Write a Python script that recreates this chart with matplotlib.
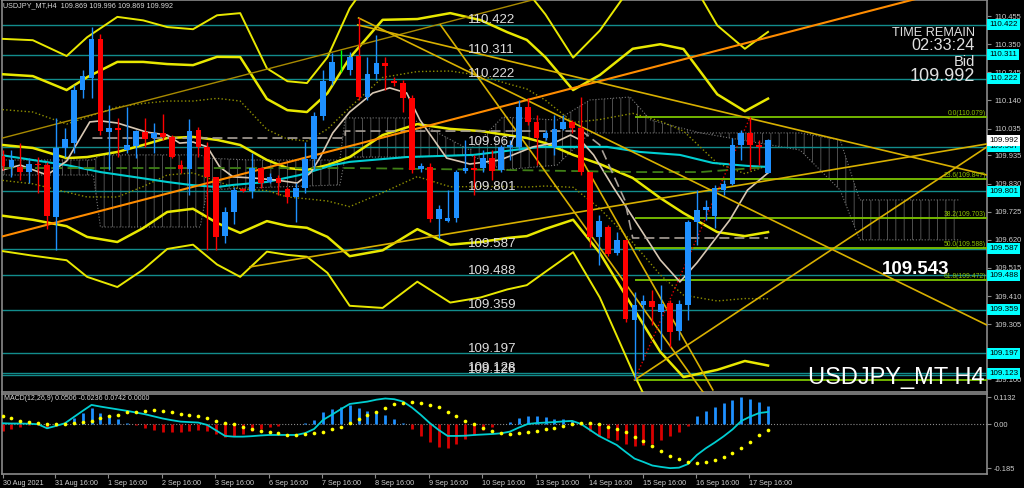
# USDJPY H4 chart with Bollinger bands, ichimoku cloud, fibo and MACD panel

import matplotlib
matplotlib.use("Agg")
import matplotlib.pyplot as plt
import numpy as np
from matplotlib.transforms import blended_transform_factory

plt.rcParams['font.family'] = ['Liberation Sans', 'DejaVu Sans']
plt.rcParams['hatch.linewidth'] = 0.6

# H4 candles, 30 Aug 16:00 .. 17 Sep 20:00
opens = [109.933, 109.892, 109.892, 109.873, 109.903, 109.899, 109.705, 109.963, 109.981, 110.179,
         110.224, 110.369, 110.022, 110.037, 109.955, 109.970, 110.022, 110.000, 110.019, 110.004,
         109.899, 109.884, 110.030, 109.967, 109.855, 109.634, 109.724, 109.810, 109.802, 109.888,
         109.836, 109.851, 109.810, 109.780, 109.814, 109.922, 110.082, 110.213, 110.291, 110.254,
         110.306, 110.153, 110.239, 110.280, 110.213, 110.205, 110.149, 109.884, 109.892, 109.698,
         109.690, 109.702, 109.877, 109.888, 109.888, 109.925, 109.881, 109.967, 109.967, 110.116,
         110.060, 110.000, 109.967, 110.034, 110.060, 110.037, 109.873, 109.631, 109.668, 109.571,
         109.620, 109.321, 109.377, 109.392, 109.351, 109.385, 109.280, 109.377, 109.687, 109.731,
         109.709, 109.806, 109.828, 109.974, 110.019, 109.974, 109.869]
highs = [109.955, 109.955, 109.981, 109.925, 109.929, 109.911, 110.075, 110.037, 110.198, 110.254,
         110.414, 110.388, 110.123, 110.075, 110.116, 110.030, 110.075, 110.056, 110.090, 110.011,
         109.918, 110.071, 110.041, 109.985, 109.855, 109.743, 109.817, 109.814, 109.944, 109.892,
         109.870, 109.862, 109.817, 109.832, 109.985, 110.097, 110.254, 110.317, 110.328, 110.321,
         110.448, 110.302, 110.384, 110.302, 110.228, 110.217, 110.161, 109.907, 109.907, 109.750,
         109.806, 109.881, 109.993, 109.937, 109.955, 109.955, 109.974, 109.993, 110.142, 110.149,
         110.086, 110.030, 110.086, 110.086, 110.067, 110.153, 109.873, 109.713, 109.676, 109.649,
         109.620, 109.426, 109.414, 109.433, 109.452, 109.396, 109.396, 109.694, 109.806, 109.769,
         109.825, 109.843, 110.000, 110.030, 110.079, 109.993, 109.996]
lows = [109.881, 109.855, 109.843, 109.832, 109.795, 109.661, 109.582, 109.929, 109.944, 110.149,
        110.149, 110.011, 109.881, 109.929, 109.944, 109.925, 109.967, 109.944, 109.993, 109.925,
        109.870, 109.787, 109.929, 109.582, 109.582, 109.608, 109.679, 109.799, 109.776, 109.814,
        109.832, 109.787, 109.758, 109.687, 109.795, 109.881, 110.067, 110.198, 110.246, 110.235,
        110.142, 110.142, 110.217, 110.179, 110.194, 110.097, 109.870, 109.873, 109.687, 109.627,
        109.687, 109.687, 109.870, 109.787, 109.873, 109.843, 109.873, 109.918, 109.955, 110.049,
        109.899, 109.993, 109.937, 110.030, 110.019, 109.862, 109.593, 109.526, 109.560, 109.564,
        109.314, 109.097, 109.172, 109.302, 109.209, 109.220, 109.246, 109.321, 109.601, 109.694,
        109.664, 109.787, 109.825, 109.918, 109.881, 109.899, 109.869]
closes = [109.896, 109.918, 109.873, 109.903, 109.899, 109.709, 109.963, 109.996, 110.179, 110.231,
          110.369, 110.026, 110.037, 110.030, 109.974, 110.026, 109.996, 110.019, 110.004, 109.929,
          109.884, 110.026, 109.967, 109.855, 109.631, 109.724, 109.806, 109.802, 109.888, 109.832,
          109.855, 109.832, 109.780, 109.814, 109.922, 110.082, 110.213, 110.284, 110.291, 110.302,
          110.153, 110.239, 110.280, 110.269, 110.205, 110.149, 109.881, 109.896, 109.698, 109.735,
          109.702, 109.873, 109.888, 109.881, 109.925, 109.877, 109.967, 109.974, 110.116, 110.060,
          110.000, 110.019, 110.034, 110.060, 110.037, 109.873, 109.631, 109.690, 109.567, 109.620,
          109.325, 109.377, 109.392, 109.370, 109.381, 109.276, 109.381, 109.687, 109.731, 109.743,
          109.814, 109.828, 109.974, 110.019, 109.974, 109.967, 109.992]

# MACD(12,26,9): main line and signal dots
macd_main = [0.003, 0.002, 0.002, 0.001, -0.001, -0.018, -0.008, 0.003, 0.029, 0.055,
             0.080, 0.073, 0.067, 0.061, 0.055, 0.048, 0.041, 0.032, 0.023, 0.016,
             0.010, 0.008, 0.006, -0.004, -0.027, -0.050, -0.053, -0.053, -0.051, -0.048,
             -0.046, -0.046, -0.046, -0.046, -0.038, -0.021, 0.017, 0.039, 0.062, 0.084,
             0.089, 0.094, 0.102, 0.107, 0.104, 0.094, 0.069, 0.038, 0.004, -0.025,
             -0.050, -0.050, -0.049, -0.046, -0.044, -0.042, -0.039, -0.032, -0.015, 0.000,
             0.004, 0.006, 0.008, 0.011, 0.013, 0.000, -0.025, -0.050, -0.069, -0.088,
             -0.117, -0.145, -0.159, -0.174, -0.180, -0.185, -0.183, -0.168, -0.130, -0.102,
             -0.078, -0.052, -0.023, 0.013, 0.031, 0.046, 0.0506]
macd_signal = [0.0335, 0.024, 0.014, 0.007, 0.003, -0.001, -0.001, -0.001, 0.003, 0.007,
               0.011, 0.025, 0.034, 0.039, 0.049, 0.052, 0.056, 0.059, 0.056, 0.049,
               0.043, 0.036, 0.032, 0.024, 0.014, 0.005, -0.001, -0.013, -0.022, -0.029,
               -0.035, -0.039, -0.045, -0.046, -0.043, -0.039, -0.034, -0.022, -0.011, 0.005,
               0.020, 0.038, 0.052, 0.068, 0.082, 0.089, 0.092, 0.089, 0.080, 0.070,
               0.050, 0.034, 0.014, 0.000, -0.018, -0.029, -0.039, -0.042, -0.039, -0.034,
               -0.029, -0.022, -0.015, -0.008, -0.001, 0.003, 0.003, -0.001, -0.011, -0.021,
               -0.035, -0.053, -0.071, -0.092, -0.113, -0.133, -0.148, -0.158, -0.162, -0.158,
               -0.151, -0.140, -0.123, -0.101, -0.075, -0.047, -0.0236]

# Bollinger(20) middle line and one standard deviation, read at these bars
bb_bars = [0, 3.4, 7.2, 9.5, 12.9, 15.8, 18.5, 21.4, 24.1, 26.7, 29.7, 32.0, 34.2, 36.5, 39.0,
           42.7, 46.6, 50.3, 53.7, 56.7, 58.9, 61.0, 64.1, 67.1, 70.8, 73.9, 76.5, 80.3, 83.4, 86.0]
bb_mid = [109.974, 109.963, 109.925, 109.929, 109.948, 109.974, 110.000, 110.004, 109.993, 109.974,
          109.918, 109.888, 109.881, 109.899, 109.929, 110.011, 110.052, 110.034, 110.026, 110.011,
          110.000, 109.981, 109.937, 109.903, 109.851, 109.776, 109.720, 109.649, 109.634, 109.649]
bb_sd = [0.132, 0.134, 0.127, 0.149, 0.168, 0.155, 0.138, 0.134, 0.155, 0.164,
         0.114, 0.108, 0.108, 0.134, 0.185, 0.215, 0.196, 0.216, 0.207, 0.192,
         0.183, 0.160, 0.121, 0.166, 0.241, 0.287, 0.306, 0.257, 0.233, 0.249]

# moving averages
ma_cyan_bars = [-0.3, 3.4, 7.2, 11.0, 14.7, 18.5, 21.1, 24.1, 25.9, 29.7, 33.4, 37.1, 39.0, 45.4,
                52.9, 60.4, 67.9, 71.6, 76.1, 79.8, 83.7, 86.0]
ma_cyan = [109.937, 109.918, 109.899, 109.873, 109.855, 109.836, 109.825, 109.817, 109.825, 109.836,
           109.862, 109.899, 109.911, 109.929, 109.937, 109.967, 109.967, 109.948, 109.937, 109.907,
           109.896, 109.892]
ma_fast_bars = [0, 2.0, 5.0, 7.2, 9.8, 11.0, 12.9, 16.2, 18.5, 19.9, 21.4, 23.0, 24.4, 25.9, 28.1,
                30.8, 33.1, 34.6, 35.7, 37.1, 39.0, 41.6, 43.5, 45.4, 46.9, 49.9, 52.5, 55.9, 59.6,
                61.9, 63.8, 64.9, 66.4, 68.6, 71.6, 73.9, 76.1, 78.0, 81.7, 83.7, 86.0]
ma_fast = [109.881, 109.899, 109.862, 109.914, 110.060, 110.064, 110.056, 110.022, 110.011, 109.981,
           109.985, 109.967, 109.892, 109.855, 109.851, 109.843, 109.832, 109.870, 109.929, 110.019,
           110.097, 110.168, 110.187, 110.168, 110.067, 109.925, 109.903, 109.918, 109.967, 109.981,
           110.011, 109.993, 109.937, 109.817, 109.664, 109.545, 109.463, 109.534, 109.694, 109.806,
           109.870]
ma_slow_bars = [0, 39.0, 55.9, 71.6, 78.4, 86.0]
ma_slow = [109.888, 109.888, 109.881, 109.873, 109.873, 109.892]
kijun_bars = [10.1, 38.5, 38.5, 65.1, 67.1, 69.9, 70.8, 86.0]
kijun = [110.000, 110.000, 110.026, 110.026, 109.974, 109.769, 109.627, 109.627]

# ichimoku cloud (span A / span B)
cloud_bars = [-0.3, 10.2, 11.0, 22.2, 23.0, 27.8, 37.9, 38.5, 45.8, 52.5, 56.2, 62.3, 66.0, 70.5,
              72.8, 78.4, 89.6, 94.1, 96.3, 98.6, 107.6]
span_a = [109.918, 109.918, 109.937, 109.937, 109.925, 109.918, 109.918, 110.075, 110.075, 109.955,
          110.078, 110.067, 110.142, 110.153, 110.067, 110.019, 110.019, 109.993, 109.769, 109.769,
          109.769]
span_b = [109.862, 109.862, 109.668, 109.668, 109.806, 109.814, 109.825, 109.929, 109.929, 109.937,
          109.881, 109.899, 110.019, 110.019, 110.019, 110.019, 109.955, 109.806, 109.620, 109.620,
          109.620]

# support / resistance levels
sr_levels = [110.422, 110.311, 110.222, 109.967, 109.801, 109.587, 109.488, 109.359, 109.197,
             109.123, 109.116]
sr_labels = ['110.422', '110.311', '110.222', '109.967', '109.801', '109.587', '109.488', '109.359',
             '109.197', '109.128', '109.126']

# fibonacci retracement (low bar 71 -> high bar 84)
fib_levels = [110.079, 109.847, 109.703, 109.588, 109.472, 109.097]
fib_names = ['0.0(110.079)', '23.6(109.847)', '38.2(109.703)', '50.0(109.588)', '61.8(109.472)', '']

# trendlines: (bar0, price0, bar1, price1)
trend_orange = (0, 109.633, 110.6, 110.588)
trend_olive = (0, 110.000, 110.6, 110.957)
trend_gold = [(40.0, 110.448, 110.6, 109.302),
              (39.9, 110.422, 110.6, 109.862),
              (27.8, 109.519, 110.6, 109.978),
              (49.2, 110.422, 78.7, 109.052),
              (64.9, 109.929, 79.8, 109.060),
              (71.0, 109.097, 110.6, 109.967)]

axis_ticks = [110.455, 110.350, 110.245, 110.140, 110.035, 109.935, 109.830, 109.725, 109.620,
              109.515, 109.410, 109.305, 109.100]
date_labels = ['30 Aug 2021', '31 Aug 16:00', '1 Sep 16:00', '2 Sep 16:00', '3 Sep 16:00',
               '6 Sep 16:00', '7 Sep 16:00', '8 Sep 16:00', '9 Sep 16:00', '10 Sep 16:00',
               '13 Sep 16:00', '14 Sep 16:00', '15 Sep 16:00', '16 Sep 16:00', '17 Sep 16:00']
date_pos = [0.1, 5.9, 11.9, 17.9, 23.9, 29.9, 35.9, 41.9, 47.9, 53.9, 59.9, 65.9, 71.9, 77.9, 83.9]

# ---------------------------------------------------------------------------
fig = plt.figure(figsize=(10.24, 4.88), dpi=100, facecolor='black')
ax = fig.add_axes([2 / 1024, 96 / 488, 985 / 1024, 392 / 488], facecolor='black')
ax2 = fig.add_axes([2 / 1024, 14 / 488, 985 / 1024, 80 / 488], facecolor='black')

ax.set_xlim(-0.06, 110.6)
ax.set_ylim(109.0523, 110.515)
ax2.set_xlim(-0.06, 110.6)
ax2.set_ylim(-0.2096, 0.1258)

for a in (ax, ax2):
    for s in a.spines.values():
        s.set_color('#8a8a8a')
        s.set_linewidth(1.2)

# cloud
ax.fill_between(cloud_bars, span_a, span_b, facecolor='none', edgecolor='#5c5c5c',
                hatch='||', linewidth=0, zorder=1)
ax.plot(cloud_bars, span_a, color='#777777', lw=0.8, ls=':', zorder=1)
ax.plot(cloud_bars, span_b, color='#777777', lw=0.8, ls=':', zorder=1)

# levels
for lv in sr_levels:
    ax.axhline(lv, color='#128c8c', lw=1, zorder=2)
for lv, lab in zip(sr_levels, sr_labels):
    ax.annotate(lab, (52.3, lv), xytext=(0, 1.2), textcoords='offset points',
                color='#dedede', fontsize=9.6, va='baseline', ha='left', zorder=9)

# fibo
fib_start = 71
ax.hlines(fib_levels, fib_start, 110.6, color='#7cc400', lw=1.3, zorder=3)
ftrans = blended_transform_factory(fig.transFigure, ax.transData)
for lv, nm in zip(fib_levels, fib_names):
    ax.text(986 / 1024, lv, nm, transform=ftrans, ha='right', va='bottom',
            fontsize=4.9, color='#8cc000', zorder=9)

# bollinger bands
mid = np.array(bb_mid)
sd = np.array(bb_sd)
ax.plot(bb_bars, mid, color='#e8e800', lw=1.8, zorder=4)
for k in (2, -2):
    ax.plot(bb_bars, mid + k * sd, color='#e8e800', lw=1.8, zorder=4)
for k in (3, -3):
    ax.plot(bb_bars, mid + k * sd, color='#e8e800', lw=1.4, zorder=4)
for k in (1, -1):
    ax.plot(bb_bars, mid + k * sd, color='#8f8f00', lw=1.0, ls=':', zorder=4)

# moving averages
ax.plot(ma_cyan_bars, ma_cyan, color='#00ced1', lw=1.5, zorder=4)
ax.plot(ma_fast_bars, ma_fast, color='#d8c8b4', lw=1.2, zorder=4)
ax.plot(ma_slow_bars, ma_slow, color='#3f7f16', lw=1.3, ls=(0, (6, 3)), zorder=4)
ax.plot(kijun_bars, kijun, color='#a8a098', lw=1.2, ls=(0, (6, 3)), zorder=4)

# trendlines
b0, p0, b1, p1 = trend_orange
ax.plot([b0, b1], [p0, p1], color='#ff8c00', lw=1.5, zorder=5)
b0, p0, b1, p1 = trend_olive
ax.plot([b0, b1], [p0, p1], color='#a88a00', lw=1.0, zorder=5)
for b0, p0, b1, p1 in trend_gold:
    ax.plot([b0, b1], [p0, p1], color='#d8b000', lw=1.2, zorder=5)
ax.plot([71, 84], [109.097, 110.079], color='#e00000', lw=1, ls=':', zorder=5)

# candles
o = np.array(opens)
c = np.array(closes)
idx = np.arange(len(o))
col = np.where(c > o, '#1e90ff', np.where(c < o, '#ff0000', '#00ff00'))
ax.vlines(idx, lows, highs, colors=col, lw=1, zorder=6)
ax.bar(idx, np.maximum(np.abs(c - o), 0.0015), bottom=np.minimum(o, c), width=0.64,
       color=col, linewidth=0, zorder=7)

# price axis
ax.yaxis.tick_right()
ax.set_yticks(axis_ticks)
ax.set_yticklabels(['%.3f' % t for t in axis_ticks])
ax.tick_params(axis='y', colors='#8a8a8a', labelcolor='#d0d0d0', labelsize=5.4, length=3, pad=2)
ax.set_xticks([])
for lv in sr_levels[:-1]:
    ax.text(989 / 1024, lv, '%.3f' % lv, transform=ftrans, ha='left', va='center',
            fontsize=5.8, color='black', zorder=10,
            bbox=dict(boxstyle='square,pad=0.25', fc='#00ffff', ec='none'))
ax.text(989 / 1024, closes[-1], '%.3f' % closes[-1], transform=ftrans, ha='left', va='center',
        fontsize=5.8, color='black', zorder=10,
        bbox=dict(boxstyle='square,pad=0.25', fc='white', ec='none'))

# texts
fig.text(3 / 1024, 1 - 6 / 488, 'USDJPY_MT,H4  109.869 109.996 109.869 109.992',
         fontsize=5.2, color='#d8d8d8', va='center')
fig.text(975 / 1024, 1 - 33 / 488, 'TIME REMAIN', fontsize=9.2, color='#e0e0e0', ha='right', va='center')
fig.text(975 / 1024, 1 - 46 / 488, '02:33:24', fontsize=11.7, color='#e0e0e0', ha='right', va='center')
fig.text(975 / 1024, 1 - 62 / 488, 'Bid', fontsize=10.5, color='#e0e0e0', ha='right', va='center')
fig.text(975 / 1024, 1 - 76 / 488, '109.992', fontsize=13, color='#e0e0e0', ha='right', va='center')
fig.text(882 / 1024, 1 - 270 / 488, '109.543', fontsize=13.5, color='white', weight='bold',
         ha='left', va='center', zorder=12)
fig.text(985 / 1024, 1 - 378 / 488, 'USDJPY_MT H4', fontsize=17, color='white', ha='right',
         va='center', zorder=12)

# MACD panel
hist = np.array(macd_main) - np.array(macd_signal)
hcol = np.where(hist >= 0, '#1e90ff', '#d80000')
ax2.axhline(0, color='#8a8a8a', lw=0.8, ls=':')
ax2.vlines(idx, 0, hist, colors=hcol, lw=2, zorder=2)
ax2.plot(idx, macd_main, color='#00ced1', lw=1.3, zorder=3)
ax2.scatter(idx, macd_signal, s=7, color='#ffff00', zorder=4, linewidths=0)
ax2.yaxis.tick_right()
ax2.set_yticks([0.1132, 0.0, -0.185])
ax2.set_yticklabels(['0.1132', '0.00', '-0.185'])
ax2.tick_params(axis='y', colors='#8a8a8a', labelcolor='#d0d0d0', labelsize=5.4, length=3, pad=2)
ax2.set_xticks(date_pos)
ax2.set_xticklabels(date_labels, ha='left')
ax2.tick_params(axis='x', colors='#8a8a8a', labelcolor='#d0d0d0', labelsize=5.2, length=3, pad=1)
fig.text(4 / 1024, 1 - 398 / 488, 'MACD(12,26,9) 0.0506 -0.0236 0.0742 0.0000',
         fontsize=5, color='#d8d8d8', va='center')

fig.savefig('out.png', dpi=100, facecolor='black')
